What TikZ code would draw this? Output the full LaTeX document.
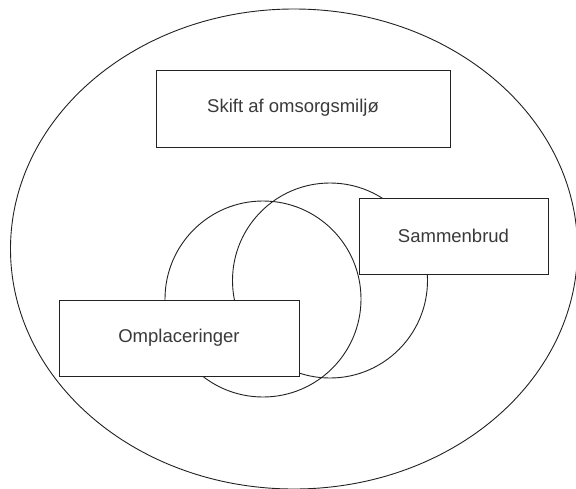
\documentclass[tikz,border=0pt]{standalone}
\usepackage{fontspec}
\setmainfont{Liberation Sans}
\usetikzlibrary{shapes.geometric}
\definecolor{txt}{HTML}{3A3A3A}
\definecolor{ln}{HTML}{222222}
\tikzset{
  box/.style={draw=ln, line width=0.9pt, fill=white, rectangle, inner sep=0pt},
  ring/.style={draw=ln, line width=0.9pt, circle, inner sep=0pt},
  lbl/.style={font=\fontsize{18.5}{22}\selectfont, text=txt, inner sep=0pt}
}
\begin{document}
\begin{tikzpicture}[x=1pt,y=-1pt]
\useasboundingbox (0,0) rectangle (576,488);
\fill[white] (0,0) rectangle (576,488);
\node[draw=ln, line width=0.9pt, ellipse, inner sep=0pt, minimum width=567pt, minimum height=480pt] (outer) at (294,249) {};
\node[ring, minimum size=196pt] (c1) at (263,299) {};
\node[ring, minimum size=195pt] (c2) at (330,280.5) {};
\node[box, minimum width=294pt, minimum height=77pt] (skift) at (303,108.5) {};
\node[lbl] (skiftt) at (293,108) {Skift af omsorgsmiljø};
\node[box, minimum width=189pt, minimum height=76pt, lbl] (samm) at (453.5,236) {Sammenbrud};
\node[box, minimum width=240pt, minimum height=76pt, lbl] (ompl) at (179,338) {Omplaceringer};
\end{tikzpicture}
\end{document}
